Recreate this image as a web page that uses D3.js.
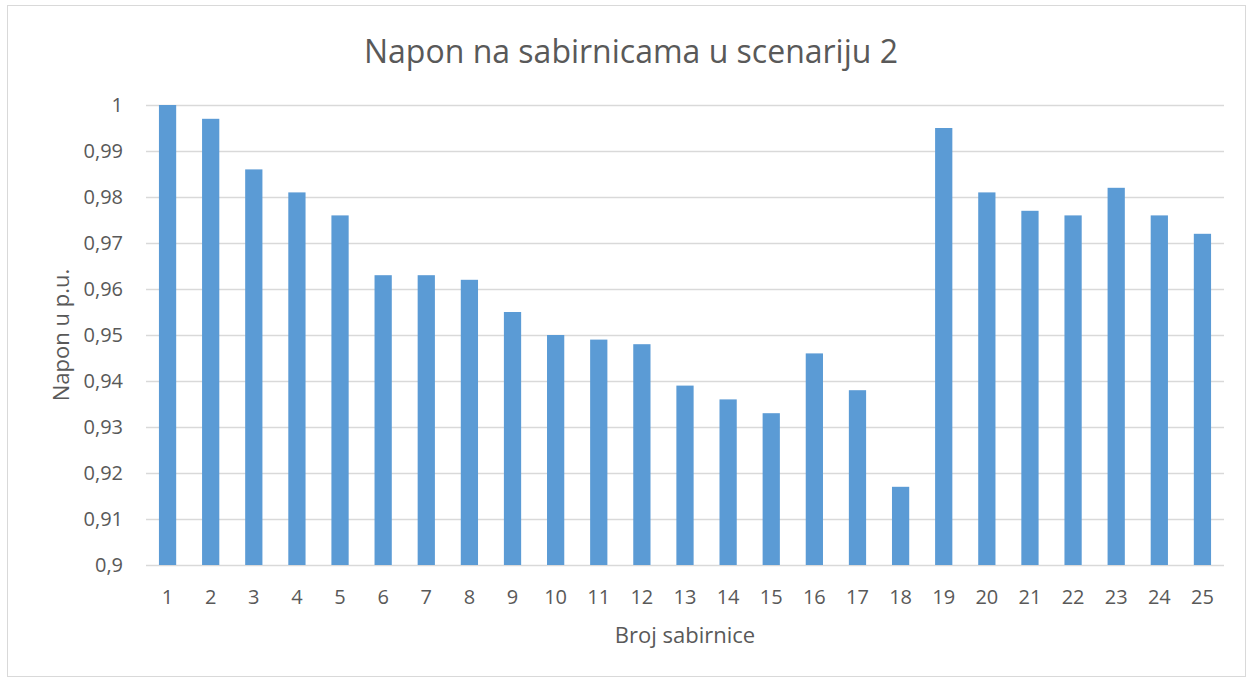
<!DOCTYPE html>
<html>
<head>
<meta charset="utf-8">
<script src="https://cdn.jsdelivr.net/npm/d3@7"></script>
<style>
  body { margin: 0; background: #fff; }
  text { font-family: "Open Sans", sans-serif; fill: #595959; }
</style>
</head>
<body>
<script>
// bus numbers and voltages (p.u.)
var buses = d3.range(1, 26).map(String);
var voltages = [1, 0.997, 0.986, 0.981, 0.976, 0.963, 0.963, 0.962, 0.955, 0.950,
                0.949, 0.948, 0.939, 0.936, 0.933, 0.946, 0.938, 0.917, 0.995, 0.981,
                0.977, 0.976, 0.982, 0.976, 0.972];
var yTicks = [0.9, 0.91, 0.92, 0.93, 0.94, 0.95, 0.96, 0.97, 0.98, 0.99, 1];

var width = 1252, height = 680;
var margin = {left: 146, right: 28, top: 105, bottom: 115};

var svg = d3.select('body').append('svg')
    .attr('width', width)
    .attr('height', height);

// outer frame
svg.append('rect')
    .attr('x', 7.5).attr('y', 5.5)
    .attr('width', width - 14).attr('height', height - 9)
    .attr('fill', '#fff')
    .attr('stroke', '#d9d9d9');

var x = d3.scaleBand()
    .domain(buses)
    .range([margin.left, width - margin.right])
    .paddingInner(0.6)
    .paddingOuter(0.3);

var y = d3.scaleLinear()
    .domain([0.9, 1])
    .range([height - margin.bottom, margin.top]);

// gridlines
svg.append('g')
    .selectAll('line')
    .data(yTicks)
    .enter().append('line')
    .attr('x1', margin.left)
    .attr('x2', width - margin.right)
    .attr('y1', function(d) { return Math.round(y(d)) + 0.5; })
    .attr('y2', function(d) { return Math.round(y(d)) + 0.5; })
    .attr('stroke', '#d9d9d9')
    .attr('stroke-width', 1.5);

// bars
svg.append('g')
    .selectAll('rect')
    .data(voltages)
    .enter().append('rect')
    .attr('x', function(d, i) { return x(buses[i]); })
    .attr('width', x.bandwidth())
    .attr('y', function(d) { return y(d); })
    .attr('height', function(d) { return y(0.9) - y(d); })
    .attr('fill', '#5b9bd5');

// y tick labels
var fmt = function(d) { return String(+d.toFixed(2)).replace('.', ','); };
svg.append('g')
    .selectAll('text')
    .data(yTicks)
    .enter().append('text')
    .attr('x', 123)
    .attr('y', function(d) { return y(d); })
    .attr('dy', '0.35em')
    .attr('text-anchor', 'end')
    .style('font-size', '20px')
    .text(fmt);

// x tick labels
svg.append('g')
    .selectAll('text')
    .data(buses)
    .enter().append('text')
    .attr('x', function(d) { return x(d) + x.bandwidth() / 2; })
    .attr('y', y(0.9) + 39)
    .attr('text-anchor', 'middle')
    .style('font-size', '20px')
    .text(function(d) { return d; });

// title
svg.append('text')
    .attr('x', 631)
    .attr('y', 63)
    .attr('text-anchor', 'middle')
    .style('font-size', '32px')
    .text('Napon na sabirnicama u scenariju 2');

// axis titles
svg.append('text')
    .attr('x', (margin.left + width - margin.right) / 2)
    .attr('y', 643)
    .attr('text-anchor', 'middle')
    .style('font-size', '22px')
    .text('Broj sabirnice');

svg.append('text')
    .attr('transform', 'translate(69,' + ((margin.top + height - margin.bottom) / 2) + ') rotate(-90)')
    .attr('text-anchor', 'middle')
    .style('font-size', '22px')
    .text('Napon u p.u.');
</script>
</body>
</html>
